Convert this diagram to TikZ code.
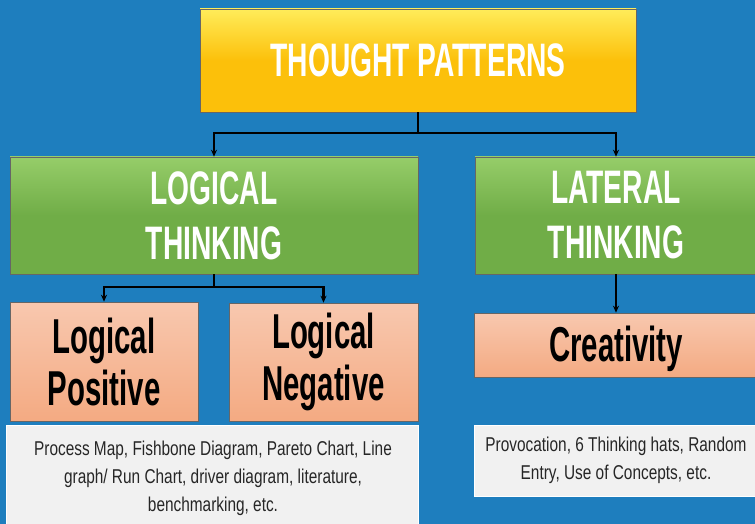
\documentclass[tikz,border=0pt]{standalone}
\usepackage{fontspec}
\setmainfont{Liberation Sans}
\newfontfamily\headfont{Liberation Sans}[FakeStretch=0.6]
\newfontfamily\smallfont{Liberation Sans}[FakeStretch=0.77]
\usetikzlibrary{arrows.meta}
\definecolor{bgblue}{RGB}{30,126,190}
\definecolor{yel}{RGB}{252,192,10}
\definecolor{yeltop}{RGB}{255,236,90}
\definecolor{grn}{RGB}{112,173,71}
\definecolor{grntop}{RGB}{150,205,105}
\definecolor{sal}{RGB}{244,170,130}
\definecolor{saltop}{RGB}{248,200,175}
\definecolor{lgrey}{RGB}{241,241,241}
\tikzset{
  box/.style={rectangle, inner sep=0pt, align=center, draw=black!60, line width=0.6pt},
  yelbox/.style={box, top color=yeltop, bottom color=yel, middle color=yel, shading angle=0},
  grnbox/.style={box, top color=grntop, bottom color=grn, middle color=grn},
  salbox/.style={box, top color=saltop, bottom color=sal},
  smalltext/.style={font=\smallfont\fontsize{20}{28}\selectfont, text=black!85},
  txtbox/.style={rectangle, inner sep=0pt, align=center, fill=lgrey, draw=white, line width=1pt, smalltext},
  whitehead/.style={text=white, font=\headfont\bfseries\fontsize{47}{55}\selectfont},
  blackhead/.style={text=black, font=\headfont\bfseries\fontsize{49}{52}\selectfont},
  conn/.style={line width=2.3pt, black},
  arr/.style={conn, -{Stealth[length=7pt,width=6pt]}},
}
\begin{document}
\begin{tikzpicture}[x=1pt,y=-1pt]
\fill[bgblue] (0,0) rectangle (755,524);
\useasboundingbox (0,0) rectangle (755,524);
\clip (0,0) rectangle (755,524);
\node[yelbox, whitehead, minimum width=436pt, minimum height=103pt] (top) at (418,60.5) {THOUGHT PATTERNS};
\node[grnbox, whitehead, minimum width=408pt, minimum height=117pt] (logical) at (214,215.5) {LOGICAL\\THINKING};
\node[grnbox, whitehead, minimum width=282pt, minimum height=117pt] (lateral) at (616,215.5) {LATERAL\\THINKING};
\node[salbox, blackhead, minimum width=188pt, minimum height=119pt] (pos) at (104,361.5) {Logical\\Positive};
\node[salbox, blackhead, minimum width=189pt, minimum height=118pt] (neg) at (323.5,362) {Logical\\Negative};
\node[salbox, blackhead, minimum width=284pt, minimum height=64pt, text height=44pt, text depth=11pt] (crea) at (616,345) {Creativity};
\node[txtbox, minimum width=412pt, minimum height=110pt, anchor=north] (t1) at (212,425) {};
\node[anchor=north, align=center, smalltext, inner sep=0pt] (t1txt) at (213,441) {Process Map, Fishbone Diagram, Pareto Chart, Line\\graph/ Run Chart, driver diagram, literature,\\benchmarking, etc.};
\node[txtbox, minimum width=284pt, minimum height=71pt] (t2) at (616,460.5) {Provocation, 6 Thinking hats, Random\\Entry, Use of Concepts, etc.};
\coordinate (j1) at (418,133);
\coordinate (j2) at (214,287);
\draw[conn] (top.south) -- (j1);
\draw[arr] (j1) -| (logical.north);
\draw[arr] (j1) -| (lateral.north);
\draw[conn] (logical.south) -- (j2);
\draw[arr] (j2) -| (pos.north);
\draw[arr] (j2) -| (neg.north);
\draw[arr] (lateral.south) -- (crea.north);
\end{tikzpicture}
\end{document}
